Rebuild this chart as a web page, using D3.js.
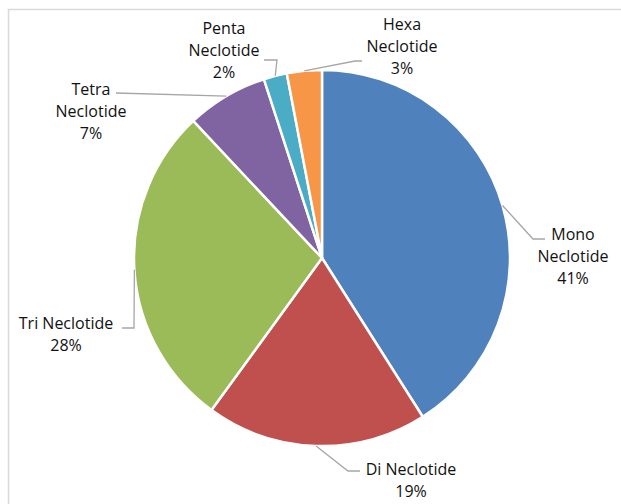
<!DOCTYPE html>
<html>
<head>
<meta charset="utf-8">
<script src="https://cdn.jsdelivr.net/npm/d3@7"></script>
<style>
  html, body { margin: 0; padding: 0; background: #fff; }
  svg { display: block; }
  text { font-family: "Open Sans", "Liberation Sans", sans-serif; font-size: 16px; fill: #111; }
</style>
</head>
<body>
<svg id="chart" width="621" height="504"></svg>
<script>
// Share of repeat motif types
const categories = ["Mono Neclotide", "Di Neclotide", "Tri Neclotide", "Tetra Neclotide", "Penta Neclotide", "Hexa Neclotide"];
const values = [41, 19, 28, 7, 2, 3];
const colors = ["#4F81BD", "#C0504D", "#9BBB59", "#8064A2", "#4BACC6", "#F79646"];

// Label text blocks: lines, centre x, first line y, and leader bend point(s)
const labelLayout = [
  { lines: ["Mono", "Neclotide"], x: 573, y: 234, path: [[533, 239], [545, 239]] },
  { lines: ["Di Neclotide"], x: 411, y: 469, path: [[348, 471], [360, 471]] },
  { lines: ["Tri Neclotide"], x: 66, y: 323, path: [[134, 328], [122, 328]] },
  { lines: ["Tetra", "Neclotide"], x: 91, y: 89, path: [[116, 93]] },
  { lines: ["Penta", "Neclotide"], x: 224, y: 28, path: [[277, 60], [264, 60]] },
  { lines: ["Hexa", "Neclotide"], x: 402, y: 24, path: [[355, 61], [362, 61]] }
];

const svg = d3.select("#chart");
const W = 621, H = 504;
const cx = 322, cy = 258, R = 188;

// Chart area border
svg.append("rect")
  .attr("x", 8.5).attr("y", 9.5)
  .attr("width", W).attr("height", H)
  .attr("fill", "none").attr("stroke", "#d9d9d9").attr("stroke-width", 1.5);

const pie = d3.pie().sort(null).value(d => d);
const arcs = pie(values);
const arc = d3.arc().innerRadius(0).outerRadius(R);

const g = svg.append("g").attr("transform", `translate(${cx},${cy})`);

g.selectAll("path.slice")
  .data(arcs)
  .join("path")
  .attr("class", "slice")
  .attr("d", arc)
  .attr("fill", (d, i) => colors[i])
  .attr("stroke", "#fff")
  .attr("stroke-width", 2.5)
  .attr("stroke-linejoin", "round");

// Leader lines from the slice edge midpoint to the label
const line = d3.line();
arcs.forEach((a, i) => {
  const mid = (a.startAngle + a.endAngle) / 2;
  const p0 = [cx + R * Math.sin(mid), cy - R * Math.cos(mid)];
  const pts = [p0, ...labelLayout[i].path];
  svg.append("path")
    .attr("d", line(pts))
    .attr("fill", "none")
    .attr("stroke", "#a6a6a6")
    .attr("stroke-width", 1.3);
});

// Labels
const lh = 22;
labelLayout.forEach((L, i) => {
  const lines = [...L.lines, values[i] + "%"];
  const t = svg.append("text")
    .attr("text-anchor", "middle")
    .attr("dominant-baseline", "central");
  lines.forEach((s, k) => {
    t.append("tspan").attr("x", L.x).attr("y", L.y + k * lh).text(s);
  });
});
</script>
</body>
</html>
